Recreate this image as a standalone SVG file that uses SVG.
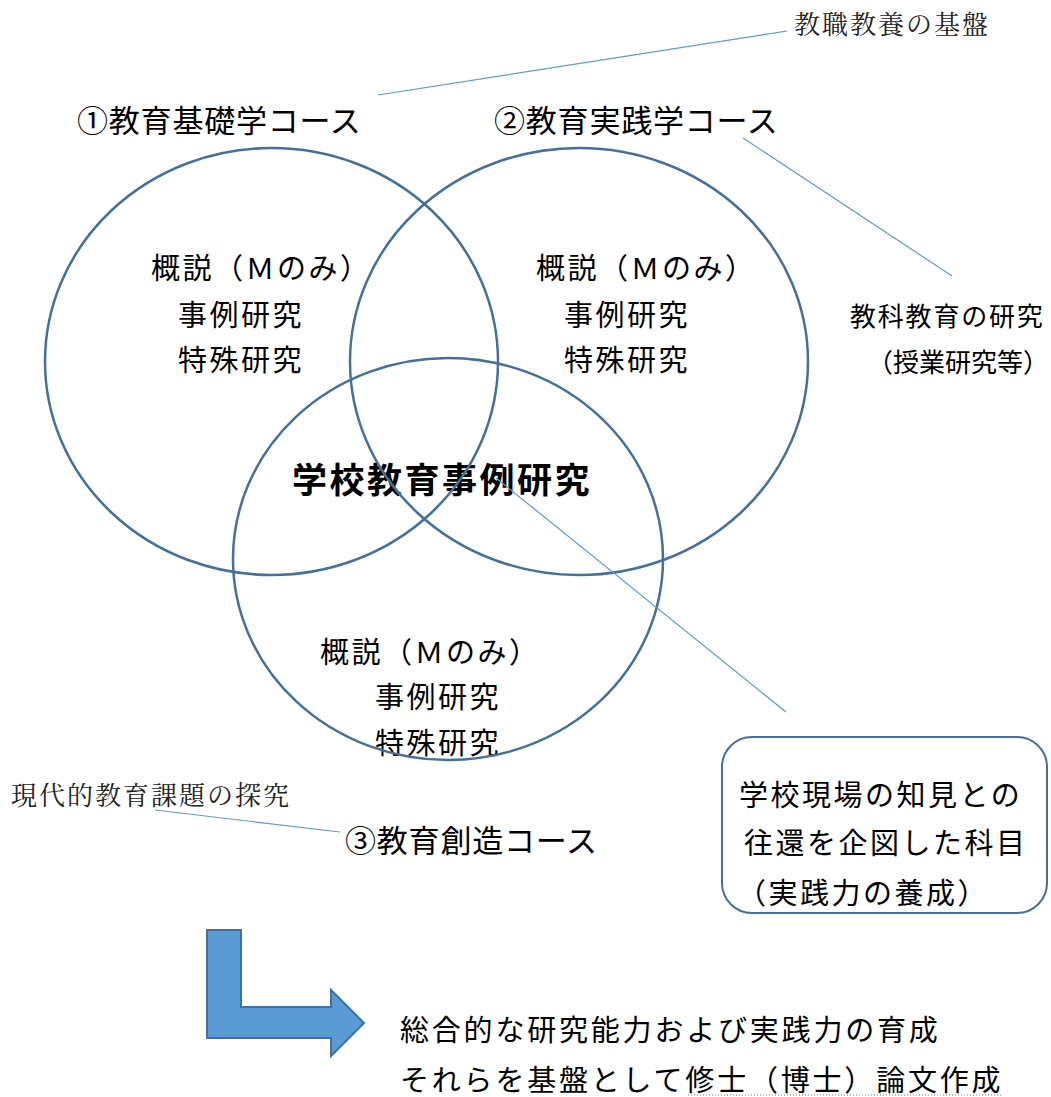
<svg xmlns="http://www.w3.org/2000/svg" width="1051" height="1097" viewBox="0 0 1051 1097">
<style>
.t{font-family:"Noto Sans CJK JP","Noto Sans CJK SC",sans-serif;fill:#000}
.s{font-family:"Noto Serif CJK JP","Noto Sans CJK JP",serif;fill:#222;font-size:26px;letter-spacing:2px}
.c{font-size:31px;letter-spacing:0.8px}
.m{font-size:29px;letter-spacing:2.5px}
.circ{fill:none;stroke:#41719c;stroke-width:2.5}
.lead{stroke:#5b9bd5;stroke-width:1.2;fill:none}
</style>
<rect width="1051" height="1097" fill="#fff"/>
<g id="course1">
<text class="t c" x="77" y="132">①教育基礎学コース</text>
<text class="t m" x="151" y="279">概説（Ｍのみ）</text>
<text class="t m" x="178" y="326">事例研究</text>
<text class="t m" x="178" y="371">特殊研究</text>
</g>
<g id="course2">
<text class="t c" x="494" y="132">②教育実践学コース</text>
<text class="t m" x="536" y="279">概説（Ｍのみ）</text>
<text class="t m" x="564" y="326">事例研究</text>
<text class="t m" x="564" y="371">特殊研究</text>
</g>
<g id="course3">
<text class="t c" x="345" y="852">③教育創造コース</text>
<text class="t m" x="320" y="663">概説（Ｍのみ）</text>
<text class="t m" x="375" y="708">事例研究</text>
<text class="t m" x="375" y="754">特殊研究</text>
</g>
<g id="center">
<text class="t" x="292" y="493" font-size="35" font-weight="bold" letter-spacing="2.5">学校教育事例研究</text>
</g>
<g id="circles">
<ellipse class="circ" cx="271.5" cy="361.5" rx="226.5" ry="213.5"/>
<ellipse class="circ" cx="579" cy="361.5" rx="229" ry="213.5"/>
<ellipse class="circ" cx="448" cy="559" rx="215" ry="201"/>
</g>
<g id="note-top"><text class="s" x="794" y="34">教職教養の基盤</text></g>
<g id="note-right">
<text class="t" x="850" y="326" font-size="26" letter-spacing="1.8">教科教育の研究</text>
<text class="t" x="867" y="372" font-size="26">（授業研究等）</text>
</g>
<g id="note-left"><text class="s" x="11" y="805">現代的教育課題の探究</text></g>
<g id="box">
<rect x="722" y="737" width="325" height="176" rx="30" ry="30" fill="#fff" stroke="#41719c" stroke-width="2"/>
<text class="t m" x="739" y="806" letter-spacing="2.3">学校現場の知見との</text>
<text class="t m" x="744" y="854" letter-spacing="2.3">往還を企図した科目</text>
<text class="t m" x="737" y="904" letter-spacing="2.3">（実践力の養成）</text>
</g>
<g id="connectors">
<line class="lead" x1="378" y1="95" x2="787" y2="31"/>
<line class="lead" x1="743" y1="138" x2="952" y2="276"/>
<line class="lead" x1="496" y1="478" x2="786" y2="712"/>
<line class="lead" x1="155" y1="810" x2="340" y2="832"/>
</g>
<g id="arrow">
<path d="M207,930 H241 V1007 H331 V990 L364,1023 L331,1056 V1038 H207 Z" fill="#5b9bd5" stroke="#41719c" stroke-width="2" stroke-linejoin="miter"/>
</g>
<g id="result">
<text class="t" x="400" y="1041" font-size="29" letter-spacing="2.8">総合的な研究能力および実践力の育成</text>
<text class="t" x="400" y="1091" font-size="29" letter-spacing="2.8">それらを基盤として修士（博士）論文作成</text>
<line x1="688" y1="1095" x2="1003" y2="1095" stroke="#777" stroke-width="1" stroke-dasharray="1,2"/>
</g>
</svg>
